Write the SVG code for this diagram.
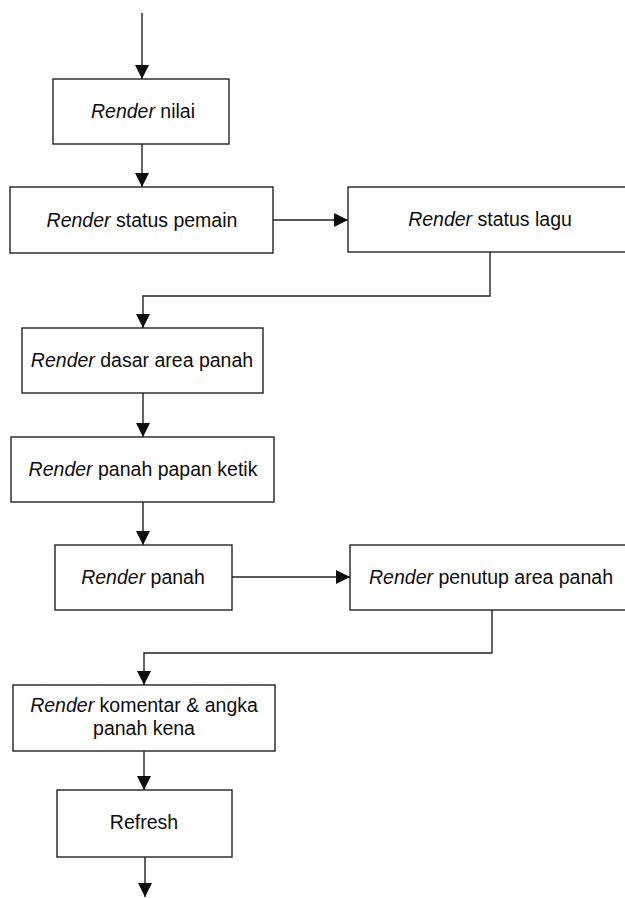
<svg xmlns="http://www.w3.org/2000/svg" width="625" height="898" viewBox="0 0 625 898">
  <style>
    .box { fill: #ffffff; stroke: #222222; stroke-width: 1.4; }
    .lbl { font-family: "Liberation Sans", Arial, sans-serif; font-size: 19.5px; fill: #0d0d0d; text-anchor: middle; }
    .it { font-style: italic; }
    .wire { fill: none; stroke: #222222; stroke-width: 1.4; }
  </style>
  <defs>
    <marker id="head" markerUnits="userSpaceOnUse" markerWidth="16" markerHeight="16" viewBox="0 0 16 16" refX="15" refY="8" orient="auto">
      <path d="M1,1 L15,8 L1,15 Z" fill="#0d0d0d"/>
    </marker>
  </defs>
  <rect width="625" height="898" fill="#ffffff"/>

  <!-- connectors -->
  <g id="connectors">
    <path class="wire" d="M142,13 V79" marker-end="url(#head)"/>
    <path class="wire" d="M142,144 V187" marker-end="url(#head)"/>
    <path class="wire" d="M273,220 H348" marker-end="url(#head)"/>
    <path class="wire" d="M490,252 V296 H143 V328" marker-end="url(#head)"/>
    <path class="wire" d="M143,393 V437" marker-end="url(#head)"/>
    <path class="wire" d="M143,502 V545" marker-end="url(#head)"/>
    <path class="wire" d="M232,577 H350" marker-end="url(#head)"/>
    <path class="wire" d="M492,610 V653 H144 V685" marker-end="url(#head)"/>
    <path class="wire" d="M144,751 V790" marker-end="url(#head)"/>
    <path class="wire" d="M145,857 V897" marker-end="url(#head)"/>
  </g>

  <g id="render-nilai">
    <rect class="box" x="53" y="79" width="176" height="65"/>
    <text class="lbl" x="143" y="118"><tspan class="it">Render</tspan> nilai</text>
  </g>

  <g id="render-status-pemain">
    <rect class="box" x="10" y="187" width="263" height="66"/>
    <text class="lbl" x="142" y="227"><tspan class="it">Render</tspan> status pemain</text>
  </g>

  <g id="render-status-lagu">
    <rect class="box" x="348" y="187" width="290" height="65"/>
    <text class="lbl" x="490" y="226"><tspan class="it">Render</tspan> status lagu</text>
  </g>

  <g id="render-dasar-area-panah">
    <rect class="box" x="22" y="328" width="241" height="65"/>
    <text class="lbl" x="142" y="367"><tspan class="it">Render</tspan> dasar area panah</text>
  </g>

  <g id="render-panah-papan-ketik">
    <rect class="box" x="11" y="437" width="263" height="65"/>
    <text class="lbl" x="143" y="476"><tspan class="it">Render</tspan> panah papan ketik</text>
  </g>

  <g id="render-panah">
    <rect class="box" x="55" y="545" width="177" height="65"/>
    <text class="lbl" x="143" y="584"><tspan class="it">Render</tspan> panah</text>
  </g>

  <g id="render-penutup-area-panah">
    <rect class="box" x="350" y="545" width="290" height="65"/>
    <text class="lbl" x="491" y="584"><tspan class="it">Render</tspan> penutup area panah</text>
  </g>

  <g id="render-komentar">
    <rect class="box" x="13" y="685" width="262" height="66"/>
    <text class="lbl" x="144" y="712"><tspan class="it">Render</tspan> komentar &amp; angka</text>
    <text class="lbl" x="144" y="735">panah kena</text>
  </g>

  <g id="refresh">
    <rect class="box" x="57" y="790" width="175" height="67"/>
    <text class="lbl" x="144" y="829">Refresh</text>
  </g>
</svg>
